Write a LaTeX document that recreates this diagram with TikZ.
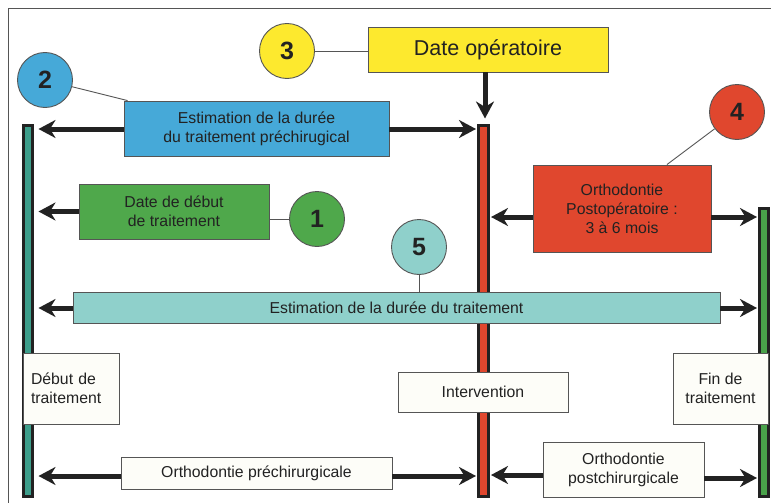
\documentclass[tikz,border=0pt]{standalone}
\usepackage{fontspec}
\setmainfont{Liberation Sans}
\usetikzlibrary{arrows.meta}
\definecolor{cblue}{HTML}{46A9D8}
\definecolor{cyellow}{HTML}{FDE92E}
\definecolor{cgreen}{HTML}{4FA84B}
\definecolor{cred}{HTML}{E0472E}
\definecolor{clteal}{HTML}{8FD0CB}
\definecolor{barteal}{HTML}{3D9E8B}
\definecolor{bargreen}{HTML}{49A24A}
\definecolor{cream}{HTML}{FDFDF8}
\definecolor{outl}{HTML}{555555}
\definecolor{txt}{HTML}{222222}
\tikzset{
  box/.style={draw=outl, line width=0.9pt, rectangle, inner sep=0pt, align=center,
    text=txt, font=\fontsize{15.8}{19}\selectfont},
  numc/.style={draw=outl, line width=0.9pt, circle, minimum size=55pt, inner sep=0pt,
    text=txt, font=\fontsize{25}{25}\selectfont\bfseries},
  bar/.style={draw=txt, line width=3pt, rectangle, inner sep=0pt},
  arr/.style={line width=5pt, draw=txt, -{Stealth[length=17pt,width=18pt,inset=5.5pt]}},
  lnk/.style={draw=outl, line width=0.9pt}
}
\begin{document}
\begin{tikzpicture}[x=1pt,y=-1pt]
\useasboundingbox (0,0) rectangle (771,503);
\fill[white] (0,0) rectangle (771,503);
\draw[outl, line width=1pt] (8,503) -- (8,9) -- (771,9);

% bars
\node[bar, fill=barteal, minimum width=9, minimum height=371] (lbar) at (27.5,310.5) {};
\node[bar, fill=cred, minimum width=10, minimum height=371] (rbar) at (483.5,310.5) {};
\node[bar, fill=bargreen, minimum width=9, minimum height=288] (gbar) at (764,352) {};

% circles
\node[numc, fill=cblue] (c2) at (45,80) {2};
\node[numc, fill=cyellow] (c3) at (287,51) {3};
\node[numc, fill=cgreen] (c1) at (317,219) {1};
\node[numc, fill=cred] (c4) at (737,112) {4};
\node[numc, fill=clteal] (c5) at (419,247) {5};

% coloured boxes
\node[box, fill=cyellow, minimum width=240, minimum height=45, font=\fontsize{21.5}{24}\selectfont] (b3) at (488,49.5) {Date opératoire};
\node[box, fill=cblue, minimum width=265, minimum height=55] (b2) at (256.5,128.5) {Estimation de la durée\\du traitement préchirugical};
\node[box, fill=cgreen, minimum width=190, minimum height=55] (b1) at (174,211.5) {Date de début\\de traitement};
\node[box, fill=cred, minimum width=178, minimum height=87] (b4) at (622,208.5) {Orthodontie\\Postopératoire :\\3 à 6 mois};
\node[box, fill=clteal, minimum width=647, minimum height=31] (b5) at (396.5,307.5) {Estimation de la durée du traitement};

% cream boxes
\node[box, fill=cream, minimum height=71, text width=80, inner xsep=8pt, align=left] (deb) at (71,388.5) {Début de\\traitement};
\node[box, fill=cream, minimum width=170, minimum height=40] (int) at (483,392) {Intervention};
\node[box, fill=cream, minimum width=95, minimum height=71] (fin) at (720.5,388.5) {Fin de\\traitement};
\node[box, fill=cream, minimum width=271, minimum height=32] (pre) at (256.5,473) {Orthodontie préchirurgicale};
\node[box, fill=cream, minimum width=161, minimum height=55] (post) at (623.5,469.5) {Orthodontie\\postchirurgicale};

% links
\draw[lnk] (c3) -- (b3.west |- c3);
\draw[lnk] (c2) -- ([xshift=4pt]b2.north west);
\draw[lnk] (b1.east |- c1) -- (c1);
\draw[lnk] (c4) -- ([xshift=45pt]b4.north);
\draw[lnk] (c5) -- (c5 |- b5.north);

% arrows
\draw[arr, shorten >=5pt] (b3.south -| 485,0) -- (485,0 |- rbar.north);
\draw[arr, shorten >=5pt] (b2.west |- 0,129) -- (lbar.east |- 0,129);
\draw[arr, shorten >=1pt] (b2.east |- 0,129) -- (rbar.west |- 0,129);
\draw[arr, shorten >=5pt] (b1.west) -- (lbar.east |- b1.west);
\draw[arr, shorten >=1pt] (b4.west |- 0,217) -- (rbar.east |- 0,217);
\draw[arr, shorten >=1pt] (b4.east |- 0,217) -- (gbar.west |- 0,217);
\draw[arr, shorten >=5pt] (b5.west |- 0,308) -- (lbar.east |- 0,308);
\draw[arr, shorten >=1pt] (b5.east |- 0,308) -- (gbar.west |- 0,308);
\draw[arr, shorten >=5pt] (pre.west |- 0,476) -- (lbar.east |- 0,476);
\draw[arr, shorten >=1pt] (pre.east |- 0,476) -- (rbar.west |- 0,476);
\draw[arr, shorten >=1pt] (post.west |- 0,475) -- (rbar.east |- 0,475);
\draw[arr, shorten >=1pt] (post.east |- 0,478) -- (gbar.west |- 0,478);
\end{tikzpicture}
\end{document}
